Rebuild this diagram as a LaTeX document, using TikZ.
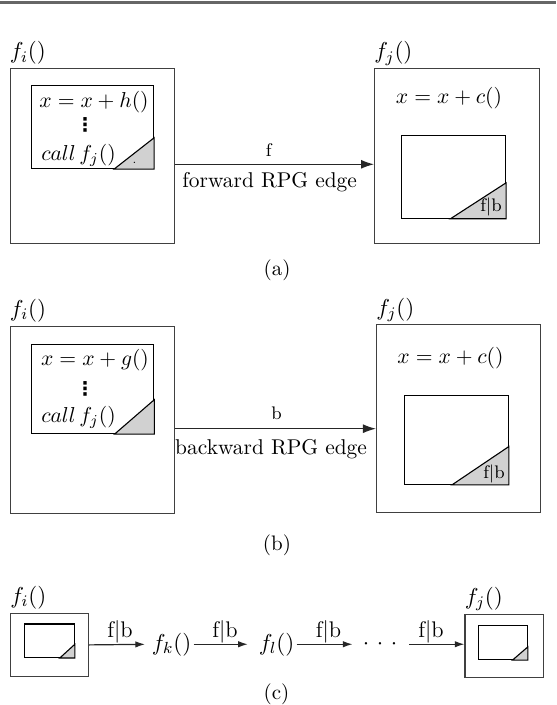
\RequirePackage{fix-cm}
\documentclass[tikz,border=0pt]{standalone}
\usepackage{fontspec}
\newfontfamily\djv{DejaVu Sans}
\usetikzlibrary{arrows.meta,calc}
\newcommand\fsz[1]{\fontsize{#1}{#1}\selectfont}
\begin{document}
\begin{tikzpicture}[x=0.5pt,y=-0.5pt,
  wh/.style 2 args={minimum width={#1*0.5pt}, minimum height={#2*0.5pt}},
  obox/.style={draw=black!75, line width=0.65pt, inner sep=0pt, anchor=north west},
  ibox/.style={draw=black, line width=0.55pt, inner sep=0pt, anchor=north west},
  tri/.style={fill=black!18, draw=black, line width=0.55pt, line join=miter},
  rpgedge/.style={draw=black!85, line width=0.6pt, -{Latex[length=6.5pt,width=4.5pt]}},
  cedge/.style={draw=black!85, line width=0.6pt, -{Latex[length=4.8pt,width=3.2pt]}},
  fn/.style={inner sep=0pt, font=\fsz{11.5}},
  mtxt/.style={inner sep=0pt, font=\fsz{10.8}},
  smalltxt/.style={inner sep=0pt, font=\fsz{9.1}},
  elab/.style={inner sep=0pt, font=\fsz{10.7}},
  clab/.style={inner sep=0pt, font=\fsz{11.3}},
  dotstxt/.style={inner sep=0pt, font=\djv\bfseries\fsz{9.5}},
  captxt/.style={inner sep=0pt, font=\fsz{10.5}}]
\useasboundingbox (0,0) rectangle (556,705);
\draw[black!60, line width=1.1pt] (0,2.5) -- (556,2.5);

% ---------------- (a) ----------------
\node[obox, wh={164.5}{175}] (aL) at (9.5,68) {};
\node[fn, anchor=base west] (aLlab) at ([yshift=4.5pt]aL.north west) {$f_i()$};
\node[ibox, wh={122.3}{83}] (aLi) at (30.7,85) {};
\draw[tri] (aLi.south east) -- ++(0,-31.3) -- ++(-40,31.3) -- cycle;
\fill (134.3,162.3) circle[radius=0.35pt];
\node[mtxt] (aT1) at (94,102) {$x = x + h()$};
\node[dotstxt] (aT2) at (85,125) {⋮};
\node[mtxt] (aT3) at (78.5,155) {$call\,f_j()$};

\node[obox, wh={164.5}{175}] (aR) at (374,68) {};
\node[fn, anchor=base west] (aRlab) at ([yshift=4.5pt]aR.north west) {$f_j()$};
\node[mtxt] (aRT) at (449,98) {$x = x + c()$};
\node[ibox, wh={104}{82.7}] (aRi) at (401,135) {};
\draw[tri] (aRi.south east) -- ++(0,-36) -- ++(-55.7,36) -- cycle;
\node[smalltxt] (aRfb) at (491,206.7) {f$|$b};

\coordinate (ay) at (0,164.3);
\draw[rpgedge] (aL.east |- ay) -- (aR.west |- ay)
  node[smalltxt, midway, xshift=-3pt, yshift=7.2pt] (aEf) {f}
  node[elab, midway, xshift=-2.5pt, yshift=-8.9pt] (aEt) {forward RPG edge};
\node[captxt] (capa) at (277,270) {(a)};

% ---------------- (b) ----------------
\node[obox, wh={164.5}{187.3}] (bL) at (9.6,325.5) {};
\node[fn, anchor=base west] (bLlab) at ([yshift=4.5pt]bL.north west) {$f_i()$};
\node[ibox, wh={122.7}{88.7}] (bLi) at (30.5,344.3) {};
\draw[tri] (bLi.south east) -- ++(0,-34.4) -- ++(-39.7,34.4) -- cycle;
\node[mtxt] (bT1) at (95,360.3) {$x = x + g()$};
\node[dotstxt] (bT2) at (85,389) {⋮};
\node[mtxt] (bT3) at (78.5,417) {$call\,f_j()$};

\node[obox, wh={163.8}{187.6}] (bR) at (375.9,324.1) {};
\node[fn, anchor=base west] (bRlab) at ([yshift=4.5pt]bR.north west) {$f_j()$};
\node[mtxt] (bRT) at (450.5,358.5) {$x = x + c()$};
\node[ibox, wh={104.3}{88.7}] (bRi) at (403.5,395) {};
\draw[tri] (bRi.south east) -- ++(0,-38.3) -- ++(-56.8,38.3) -- cycle;
\node[smalltxt] (bRfb) at (494,473.8) {f$|$b};

\coordinate (by) at (0,428.7);
\draw[rpgedge] (bL.east |- by) -- (bR.west |- by)
  node[smalltxt, midway, xshift=0.5pt, yshift=7.6pt] (bEb) {b}
  node[elab, midway, xshift=-2.3pt, yshift=-10.2pt] (bEt) {backward RPG edge};
\node[captxt] (capb) at (277,545) {(b)};

% ---------------- (c) ----------------
\node[obox, wh={77.5}{62.5}] (cL) at (10,613) {};
\node[fn, anchor=base west] (cLlab) at ([yshift=5pt]cL.north west) {$f_i()$};
\node[ibox, wh={49.5}{33.5}] (cLi) at (24.2,623.4) {};
\draw[tri] (cLi.south east) -- ++(0,-13.7) -- ++(-15,13.7) -- cycle;

\node[fn] (fk) at (171.5,644.25) {$f_k()$};
\node[fn] (fl) at (276.5,644.25) {$f_l()$};
\node[fn] (dots) at (380,644.25) {$\mathord{\cdot}\mkern6mu\mathord{\cdot}\mkern6mu\mathord{\cdot}$};

\node[obox, wh={78.3}{62.5}] (cR) at (464.4,614) {};
\node[fn, anchor=base west] (cRlab) at ([yshift=5pt]cR.north west) {$f_j()$};
\node[ibox, wh={49.1}{33.8}] (cRi) at (477.6,625.2) {};
\draw[tri] (cRi.south east) -- ++(0,-13.2) -- ++(-15.3,13.2) -- cycle;

\draw[cedge, shorten >=3.2pt] (cL.east) -- (fk.west)
  node[clab, midway, yshift=6.2pt] {f$|$b};
\draw[cedge, shorten <=1pt, shorten >=5.3pt] (fk.east) -- (fl.west)
  node[clab, midway, yshift=6.2pt] {f$|$b};
\draw[cedge, shorten <=1pt, shorten >=4.9pt] (fl.east) -- (dots.west)
  node[clab, midway, yshift=6.2pt] {f$|$b};
\draw[cedge, shorten <=5.7pt] (dots.east) -- (dots.east -| cR.west)
  node[clab, midway, yshift=6.2pt] {f$|$b};
\node[captxt] (capc) at (276.5,694) {(c)};
\end{tikzpicture}
\end{document}
